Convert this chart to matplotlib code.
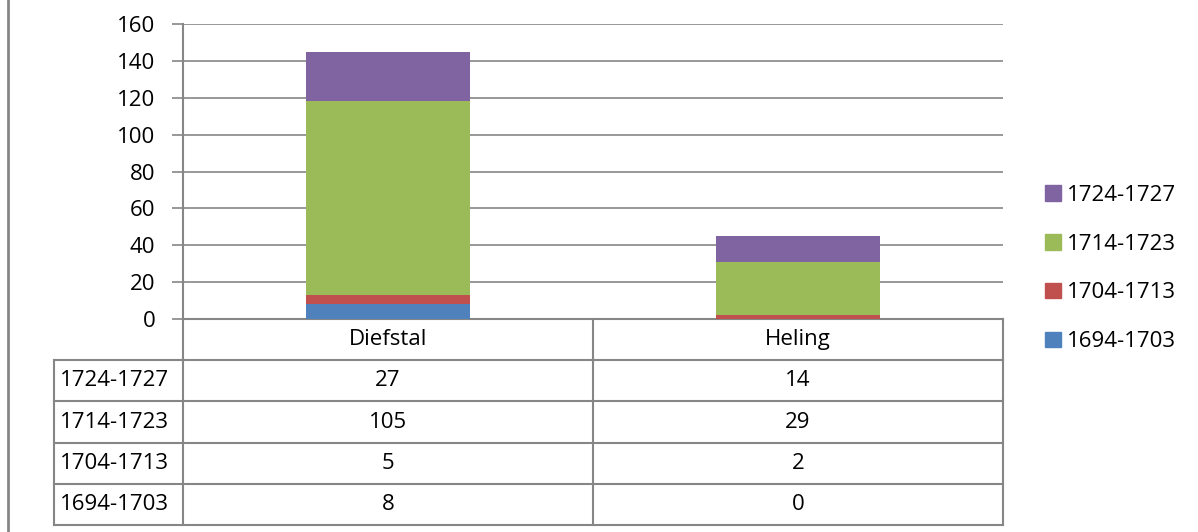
import matplotlib.pyplot as plt
from matplotlib.lines import Line2D
from matplotlib.patches import Patch
import numpy as np

plt.rcParams['font.family'] = ['Open Sans', 'DejaVu Sans']

# gegevens
categories = ['Diefstal', 'Heling']
periods = ['1694-1703', '1704-1713', '1714-1723', '1724-1727']
v1694 = [8, 0]
v1704 = [5, 2]
v1714 = [105, 29]
v1724 = [27, 14]
series = [v1694, v1704, v1714, v1724]
colors = ['#4F81BD', '#C0504D', '#9BBB59', '#8064A2']

W, H = 1198, 532
fig = plt.figure(figsize=(W / 100, H / 100), dpi=100)
grey = '#868686'
fs = 16

# plotgebied (pixels: x 183..1003, y 24..319)
ax = fig.add_axes([183 / W, 1 - 319 / H, (1003 - 183) / W, (319 - 24) / H])
x = np.arange(len(categories))
bottom = np.zeros(len(categories))
for vals, c, p in zip(series, colors, periods):
    ax.bar(x, vals, width=0.4, bottom=bottom, color=c, label=p, zorder=3)
    bottom += np.array(vals)

ax.set_xlim(-0.5, 1.5)
ax.set_ylim(0, 160)
ax.set_yticks(range(0, 161, 20))
ax.set_xticks([])
ax.yaxis.grid(True, color=grey, lw=1.2, zorder=0)
for s in ['top', 'right', 'bottom']:
    ax.spines[s].set_visible(False)
ax.spines['left'].set_color(grey)
ax.spines['left'].set_linewidth(1.5)
ax.tick_params(axis='y', length=8, width=1.2, color=grey, pad=12, labelsize=fs)

# gegevenstabel, met de hand getekend (x in data, y in asfractie)
tr = ax.get_xaxis_transform()
px = 1 / (319 - 24)          # een pixel in asfractie
row_h = 41.2 * px
x_left = -0.5 - 129 / 410   # linkerrand van de rijlabels
n_rows = len(periods)
y_bottom = -(n_rows + 1) * row_h

kw = dict(color=grey, lw=1.5, clip_on=False, transform=tr)
ax.plot([-0.5, 1.5], [0, 0], **kw)
for i in range(n_rows + 1):
    y = -(i + 1) * row_h
    ax.plot([x_left, 1.5], [y, y], **kw)
ax.plot([-0.5, -0.5], [0, y_bottom], **kw)
ax.plot([0.5, 0.5], [0, y_bottom], **kw)
ax.plot([1.5, 1.5], [0, y_bottom], **kw)
ax.plot([x_left, x_left], [-row_h, y_bottom], **kw)

for j, cat in enumerate(categories):
    ax.text(j, -0.5 * row_h, cat, ha='center', va='center', fontsize=fs,
            transform=tr)
for i, (p, vals) in enumerate(zip(periods[::-1], series[::-1])):
    yc = -(i + 1.5) * row_h
    ax.text(x_left + 6 / 410, yc, p, ha='left', va='center', fontsize=fs,
            transform=tr)
    for j, v in enumerate(vals):
        ax.text(j, yc, str(v), ha='center', va='center', fontsize=fs,
                transform=tr)

# legenda
handles = [Patch(color=c, label=p) for c, p in zip(colors, periods)][::-1]
fig.legend(handles=handles, loc='center left',
           bbox_to_anchor=(1045 / W, 1 - 268.5 / H), frameon=False,
           fontsize=fs, handlelength=0.7, handleheight=0.7,
           handletextpad=0.3, labelspacing=1.25, borderpad=0, borderaxespad=0)

# rand links
fig.add_artist(Line2D([8 / W, 8 / W], [0, 1], color=grey, lw=2,
                      transform=fig.transFigure))

fig.savefig('out.png', dpi=100)
